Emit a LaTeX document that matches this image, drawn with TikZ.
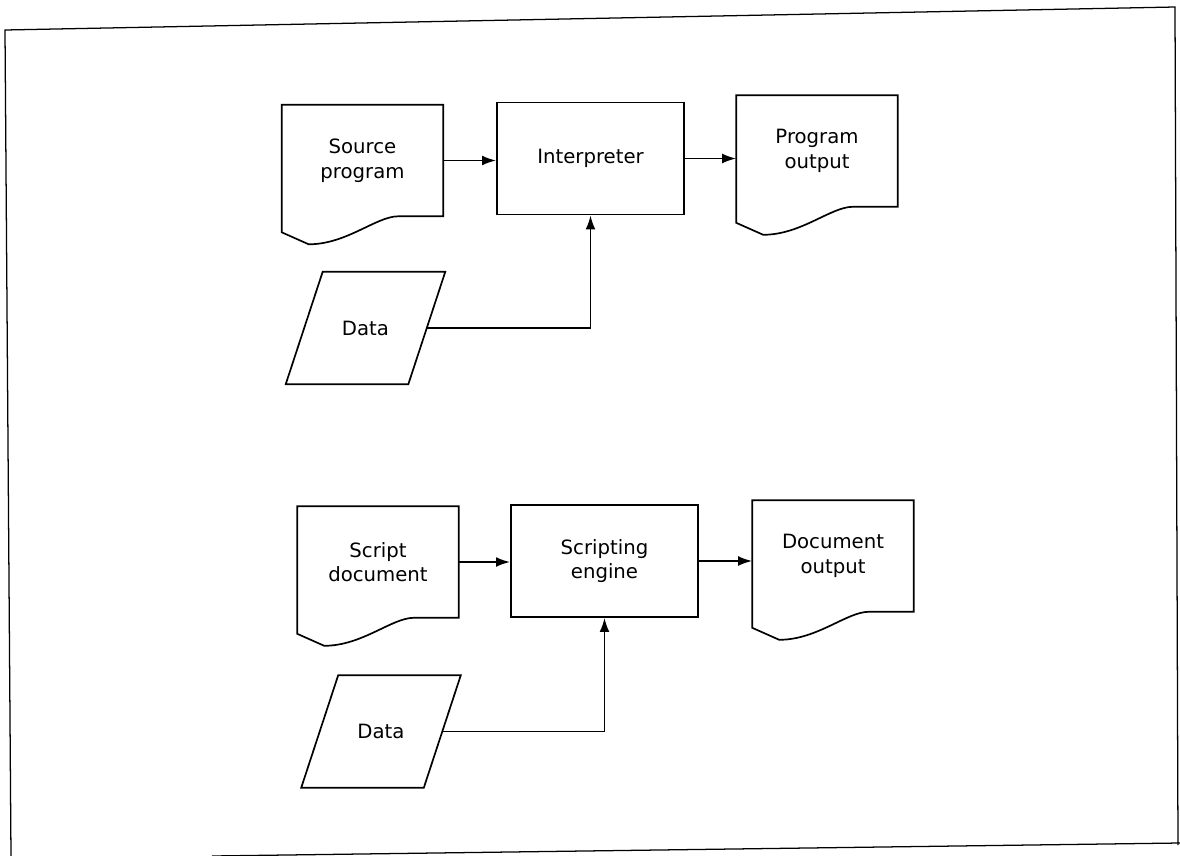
\documentclass[tikz,border=0pt]{standalone}
\usepackage{fontspec}
\setmainfont{DejaVu Sans}
\usepackage{tikz}
\usetikzlibrary{arrows.meta, calc}

\tikzset{
    boxline/.style={draw, line width=1.2pt},
    docnode/.style={rectangle, minimum width=4.025cm, minimum height=2.775cm, inner sep=0pt, align=center},
    procnode/.style={rectangle, boxline, minimum width=4.675cm, minimum height=2.8cm, inner sep=0pt, align=center},
    datanode/.style={rectangle, minimum width=3.05cm, minimum height=2.8cm, inner sep=0pt},
    flow/.style={line width=1.3pt, -{Latex[length=10pt, width=7pt]}},
}

% document outline with wavy bottom
\newcommand{\docoutline}[1]{%
    \draw[boxline] (#1.north west) -- (#1.north east) -- (#1.south east)
        -- ++(-45,0) .. controls +(-22,0) and +(38,0) .. ($(#1.south west)+(27,28)$)
        -- ($(#1.south west)+(0,16)$) -- cycle;}

% slanted input/output outline
\newcommand{\dataoutline}[1]{%
    \draw[boxline] ($(#1.north west)+(18.5,0)$) -- ($(#1.north east)+(18.5,0)$)
        -- ($(#1.south east)+(-18.5,0)$) -- ($(#1.south west)+(-18.5,0)$) -- cycle;}

\begin{document}
\begin{tikzpicture}[x=0.025cm, y=-0.025cm, font=\fontsize{14}{17.5}\selectfont]
        \useasboundingbox (0,0) rectangle (1180,856);

        % Frame
        \draw[line width=0.9pt] (11,856) -- (5,30) -- (1175,7) -- (1178,845);
        \draw[line width=0.9pt] (212,856) -- (1180,843);

        % Nodes (interpreter)
        \node[docnode] (src) at (362.5,160.5) {Source\\program};
        \node[procnode] (interp) at (590.5,158.5) {Interpreter};
        \node[docnode] (progout) at (817,151) {Program\\output};
        \node[datanode] (dataA) at (365.5,328) {Data};
        \docoutline{src}
        \docoutline{progout}
        \dataoutline{dataA}

        % Nodes (scripting)
        \node[docnode] (script) at (378,562) {Script\\document};
        \node[procnode] (engine) at (604.5,561) {Scripting\\engine};
        \node[docnode] (docout) at (833,556) {Document\\output};
        \node[datanode] (dataB) at (381,731.5) {Data};
        \docoutline{script}
        \docoutline{docout}
        \dataoutline{dataB}

        % Lines
        \draw[flow] (src.east) -- (src.east -| interp.west);
        \draw[flow] (interp.east) -- (interp.east -| progout.west);
        \draw[flow] (dataA.east) -| (interp.south);
        \draw[flow] (script.east) -- (script.east -| engine.west);
        \draw[flow] (engine.east) -- (engine.east -| docout.west);
        \draw[flow] (dataB.east) -| (engine.south);
    \end{tikzpicture}
\end{document}
